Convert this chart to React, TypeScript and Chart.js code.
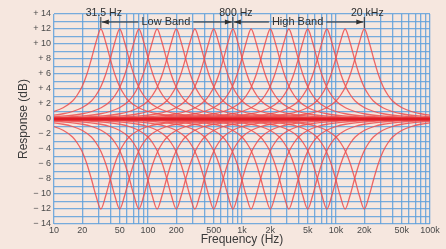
import React, { useEffect, useRef } from 'react';
import { Chart, registerables } from 'chart.js';

Chart.register(...registerables);

// Band centre frequencies (Hz), 2/3-octave spaced, as read from peaks
const bandCenters = [31.5, 50, 80, 125, 200, 315, 500, 800, 1250, 2000, 3150, 5000, 8000, 12500, 20000];
// Bell profile: distance from centre in 1/6-octave steps, and boost (dB)
const profileSteps = [0, 1, 2, 3, 4, 5, 6, 8, 10, 12, 15, 18, 24, 30, 36];
const profileBoostDb = [12, 10.3, 8, 5.9, 4.3, 3.2, 2.4, 1.5, 1.0, 0.7, 0.45, 0.3, 0.15, 0.08, 0.04];

const xGridValues = [
  10, 20, 30, 40, 50, 60, 70, 80, 90,
  100, 200, 300, 400, 500, 600, 700, 800, 900,
  1000, 2000, 3000, 4000, 5000, 6000, 7000, 8000, 9000,
  10000, 20000, 30000, 40000, 50000, 60000, 70000, 80000, 90000, 100000,
];
const xLabelValues = [10, 20, 50, 100, 200, 500, 1000, 2000, 5000, 10000, 20000, 50000, 100000];
const xLabelTexts = ['10', '20', '50', '100', '200', '500', '1k', '2k', '5k', '10k', '20k', '50k', '100k'];
const yGridValues = [-14, -13, -12, -11, -10, -9, -8, -7, -6, -5, -4, -3, -2, -1, 0, 1, 2, 3, 4, 5, 6, 7, 8, 9, 10, 11, 12, 13, 14];
const yLabelValues = [-14, -12, -10, -8, -6, -4, -2, 0, 2, 4, 6, 8, 10, 12, 14];
const yLabelTexts = ['− 14', '− 12', '− 10', '− 8', '− 6', '− 4', '− 2', '0', '+ 2', '+ 4', '+ 6', '+ 8', '+ 10', '+ 12', '+ 14'];

const markerFreqs = [31.5, 800, 20000];
const markerTexts = ['31.5 Hz', '800 Hz', '20 kHz'];
const bandTexts = ['Low Band', 'High Band'];

const BG = 'rgb(246,231,223)';
const GRID = 'rgba(95,160,220,0.85)';
const CURVE = 'rgba(236,78,78,0.85)';

function bellPoints(center: number, sign: number) {
  const pts: { x: number; y: number }[] = [];
  for (let i = profileSteps.length - 1; i > 0; i--) {
    pts.push({ x: center / Math.pow(2, profileSteps[i] / 6), y: sign * profileBoostDb[i] });
  }
  for (let i = 0; i < profileSteps.length; i++) {
    pts.push({ x: center * Math.pow(2, profileSteps[i] / 6), y: sign * profileBoostDb[i] });
  }
  return pts;
}

const bgPlugin = {
  id: 'bg',
  beforeDraw(chart: any) {
    const { ctx, width, height } = chart;
    ctx.save();
    ctx.fillStyle = BG;
    ctx.fillRect(0, 0, width, height);
    ctx.restore();
  },
};

function arrowHead(ctx: CanvasRenderingContext2D, x: number, y: number, dir: number) {
  ctx.beginPath();
  ctx.moveTo(x, y);
  ctx.lineTo(x - dir * 7, y - 2.5);
  ctx.lineTo(x - dir * 7, y + 2.5);
  ctx.closePath();
  ctx.fill();
}

const annotPlugin = {
  id: 'annot',
  afterDraw(chart: any) {
    const { ctx } = chart;
    const xs = chart.scales.x;
    const px = markerFreqs.map((f) => xs.getPixelForValue(f));
    ctx.save();
    ctx.fillStyle = '#2f2f2f';
    ctx.strokeStyle = '#2f2f2f';
    ctx.lineWidth = 1;
    ctx.textBaseline = 'middle';
    ctx.textAlign = 'center';
    ctx.font = '10.5px "Liberation Sans", Arial, sans-serif';
    markerTexts.forEach((t, i) => ctx.fillText(t, px[i] + 3, 13));
    // vertical marker ticks
    px.forEach((x) => {
      ctx.beginPath();
      ctx.moveTo(x, 17);
      ctx.lineTo(x, 28);
      ctx.stroke();
    });
    ctx.font = '11px "Liberation Sans", Arial, sans-serif';
    const yb = 22;
    const lowC = (px[0] + px[1]) / 2 - 1;
    const highC = (px[1] + px[2]) / 2 - 1;
    ctx.fillText(bandTexts[0], lowC, yb);
    ctx.fillText(bandTexts[1], highC, yb);
    const lw = ctx.measureText(bandTexts[0]).width / 2;
    const hw = ctx.measureText(bandTexts[1]).width / 2;
    const segs = [
      [px[0] + 1, lowC - lw - 3, -1],
      [lowC + lw + 3, px[1] - 1, 1],
      [px[1] + 1, highC - hw - 3, -1],
      [highC + hw + 3, px[2] - 1, 1],
    ];
    segs.forEach(([a, b, dir]) => {
      ctx.beginPath();
      ctx.moveTo(a, yb);
      ctx.lineTo(b, yb);
      ctx.stroke();
      arrowHead(ctx, dir < 0 ? a : b, yb, dir);
    });
    ctx.restore();
  },
};

export default function App() {
  const ref = useRef<HTMLCanvasElement>(null);
  useEffect(() => {
    if (!ref.current) return;
    const datasets: any[] = [
      {
        data: [{ x: 10, y: 0 }, { x: 100000, y: 0 }],
        borderColor: 'rgba(222,25,35,0.95)',
        borderWidth: 3,
        pointRadius: 0,
      },
    ];
    bandCenters.forEach((c) => {
      [1, -1].forEach((s) => {
        datasets.push({
          data: bellPoints(c, s),
          borderColor: CURVE,
          borderWidth: 1.3,
          pointRadius: 0,
          cubicInterpolationMode: 'monotone',
        });
      });
    });
    const font = { family: '"Liberation Sans", Arial, sans-serif', size: 9 };
    const chart = new Chart(ref.current, {
      type: 'line',
      data: { datasets },
      plugins: [bgPlugin, annotPlugin],
      options: {
        animation: false,
        responsive: false,
        maintainAspectRatio: false,
        parsing: false,
        layout: { padding: { left: 0, right: 16, top: 14, bottom: 0 } },
        plugins: { legend: { display: false }, tooltip: { enabled: false } },
        elements: { point: { radius: 0 } },
        scales: {
          x: {
            type: 'logarithmic',
            min: 10,
            max: 100000,
            afterBuildTicks: (s: any) => {
              s.ticks = xGridValues.map((v) => ({ value: v }));
            },
            afterFit: (s: any) => {
              s.height = 25;
            },
            ticks: {
              autoSkip: false,
              maxRotation: 0,
              minRotation: 0,
              padding: 1,
              font,
              color: '#4a4a4a',
              callback: (v: any) => {
                const i = xLabelValues.indexOf(Number(v));
                return i >= 0 ? xLabelTexts[i] : '';
              },
            },
            grid: { color: GRID, lineWidth: 1.3, drawTicks: false },
            border: { display: false },
            title: {
              display: true,
              text: 'Frequency (Hz)',
              color: '#3a3a3a',
              font: { family: '"Liberation Sans", Arial, sans-serif', size: 12 },
              padding: { top: 0, bottom: 2 },
            },
          },
          y: {
            type: 'linear',
            min: -14,
            max: 14,
            afterBuildTicks: (s: any) => {
              s.ticks = yGridValues.map((v) => ({ value: v }));
            },
            afterFit: (s: any) => {
              s.width = 54;
            },
            ticks: {
              autoSkip: false,
              padding: 3,
              font,
              color: '#4a4a4a',
              callback: (v: any) => {
                const i = yLabelValues.indexOf(Number(v));
                return i >= 0 ? yLabelTexts[i] : '';
              },
            },
            grid: { color: GRID, lineWidth: 1.3, drawTicks: false },
            border: { display: false },
            title: {
              display: true,
              text: 'Response (dB)',
              color: '#3a3a3a',
              font: { family: '"Liberation Sans", Arial, sans-serif', size: 12 },
              padding: { top: 16, bottom: 0 },
            },
          },
        },
      } as any,
    });
    return () => chart.destroy();
  }, []);
  return (
    <div style={{ position: 'fixed', left: 0, top: 0, width: 446, height: 249 }}>
      <canvas ref={ref} width={446} height={249} style={{ width: 446, height: 249, display: 'block' }} />
    </div>
  );
}
